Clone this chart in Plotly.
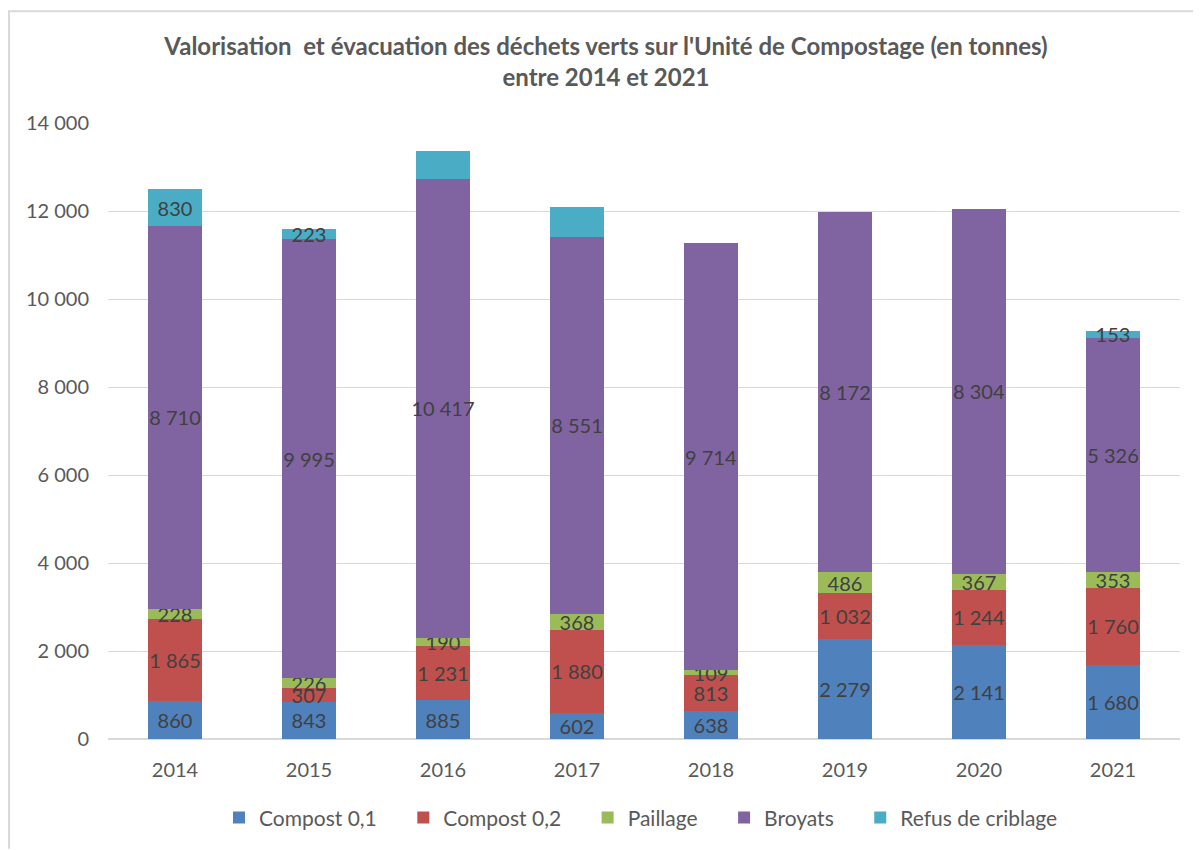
import plotly.graph_objects as go

years = ["2014", "2015", "2016", "2017", "2018", "2019", "2020", "2021"]
compost_01 = [860, 843, 885, 602, 638, 2279, 2141, 1680]
compost_02 = [1865, 307, 1231, 1880, 813, 1032, 1244, 1760]
paillage = [228, 226, 190, 368, 109, 486, 367, 353]
broyats = [8710, 9995, 10417, 8551, 9714, 8172, 8304, 5326]
refus = [830, 223, 640, 680, None, None, 0, 153]
refus_labels = ["830", "223", "", "", "", "", "0", "153"]

series = [
    ("Compost 0,1", compost_01, "#4F81BD", None),
    ("Compost 0,2", compost_02, "#C0504D", None),
    ("Paillage", paillage, "#9BBB59", None),
    ("Broyats", broyats, "#8064A2", None),
    ("Refus de criblage", refus, "#4BACC6", refus_labels),
]

def fmt(v):
    if v is None:
        return ""
    return f"{v:,}".replace(",", " ")

FONT = "Lato"
OFF = 8  # default page body margin
W, H = 1201 - OFF, 850 - OFF
# page-pixel geometry of the plot area
PL, PR, PT, PB = 108, 1180, 123, 741
L, T = PL - OFF, PT - OFF
R = W - (PR - OFF)
B = H - (PB - OFF)
pw, ph = PR - PL, PB - PT

def px_x(p):
    return (p - PL) / pw

def px_y(p):
    return (PB - p) / ph

PAD = "\u00a0" * 4

fig = go.Figure()
for i, (name, vals, color, labels) in enumerate(series):
    txt = labels if labels is not None else [fmt(v) for v in vals]
    fig.add_trace(go.Bar(
        name=name + (PAD if i < len(series) - 1 else ""), x=years, y=vals, marker_color=color,
        marker_line_width=0,
        text=txt, texttemplate="%{text}",
        textposition="inside", insidetextanchor="middle",
        constraintext="none", textangle=0,
        textfont=dict(family=FONT, size=20, color="#404040"),
        cliponaxis=False,
    ))

fig.update_layout(
    barmode="stack",
    bargap=0.6,
    width=W, height=H,
    margin=dict(l=L, r=R, t=T, b=B),
    plot_bgcolor="white", paper_bgcolor="white",
    separators=", ",
    font=dict(family=FONT, color="#595959"),
    title=dict(
        text="Valorisation  et évacuation des déchets verts sur l'Unité de Compostage (en tonnes)<br>entre 2014 et 2021",
        x=(606 - OFF) / W, xref="container", xanchor="center",
        y=1 - (55 - OFF) / H, yref="container", yanchor="middle",
        font=dict(family=FONT, size=24, color="#595959", weight="bold"),
    ),
    yaxis=dict(
        range=[0, 14000], dtick=2000, tickformat=",d",
        gridcolor="#D9D9D9", gridwidth=1, zeroline=True, zerolinecolor="#D9D9D9",
        showline=False, ticks="outside", ticklen=14, tickcolor="white",
        tickfont=dict(family=FONT, size=20, color="#595959"),
    ),
    xaxis=dict(
        showline=True, linecolor="#D9D9D9", ticks="outside", ticklen=13, tickcolor="white",
        tickfont=dict(family=FONT, size=20, color="#595959"),
    ),
    legend=dict(
        orientation="h", x=px_x(641), xanchor="center",
        y=px_y(820), yanchor="middle",
        font=dict(family=FONT, size=21, color="#595959"),
        traceorder="normal", itemwidth=30,
    ),
    shapes=[
        dict(type="line", xref="paper", yref="paper",
             x0=px_x(9), x1=px_x(9), y0=px_y(11), y1=px_y(851),
             line=dict(color="#D9D9D9", width=2)),
        dict(type="line", xref="paper", yref="paper",
             x0=px_x(8), x1=px_x(1202), y0=px_y(11), y1=px_y(11),
             line=dict(color="#D9D9D9", width=2)),
    ],
)

fig.write_html("out.html")
